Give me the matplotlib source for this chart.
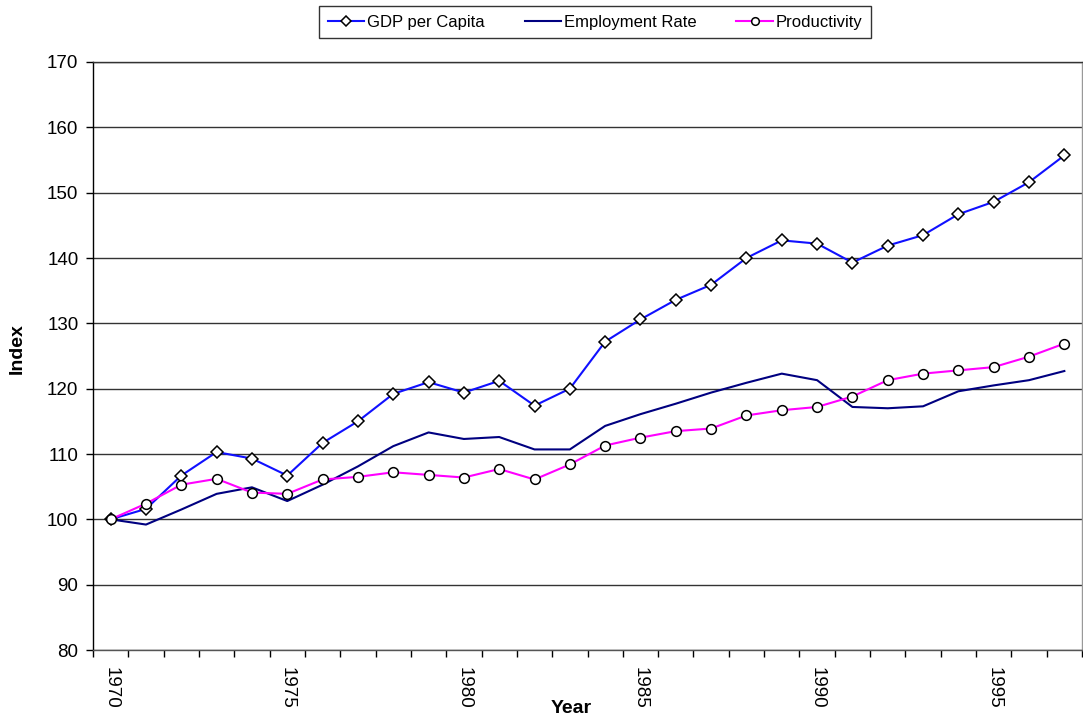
import matplotlib
matplotlib.use("Agg")
import matplotlib.pyplot as plt
from matplotlib.lines import Line2D
import numpy as np

plt.rcParams['font.family'] = ['Liberation Sans', 'DejaVu Sans']

years = list(range(1970, 1998))
gdp_per_capita = [100.0, 101.6, 106.7, 110.3, 109.3, 106.7, 111.7, 115.0, 119.2, 121.0,
                  119.4, 121.2, 117.4, 120.0, 127.2, 130.6, 133.6, 135.9, 140.0, 142.7,
                  142.2, 139.3, 141.9, 143.5, 146.7, 148.6, 151.6, 155.7]
employment_rate = [100.0, 99.2, 101.5, 103.9, 104.9, 102.8, 105.3, 108.1, 111.2, 113.3,
                   112.3, 112.6, 110.7, 110.7, 114.3, 116.1, 117.7, 119.4, 120.9, 122.3,
                   121.3, 117.2, 117.0, 117.3, 119.6, 120.5, 121.3, 122.7]
productivity = [100.0, 102.4, 105.3, 106.2, 104.1, 103.9, 106.1, 106.5, 107.2, 106.8,
                106.4, 107.7, 106.1, 108.4, 111.3, 112.5, 113.5, 113.9, 115.9, 116.7,
                117.2, 118.8, 121.3, 122.3, 122.8, 123.3, 124.9, 126.9]
yticks = list(range(80, 171, 10))

W, H = 1083, 717
fig = plt.figure(figsize=(W/100, H/100), dpi=100)
ax = fig.add_axes([93/W, 1-650/H, (1082-93)/W, (650-62)/H])

gdp_style = dict(color='#1010ff', lw=1.5, marker='D', mfc='white', mec='black', mew=1.1)
emp_style = dict(color='#000080', lw=1.5)
prod_style = dict(color='#ff00ff', lw=1.5, marker='o', mfc='white', mec='black', mew=1.1)

x = np.arange(len(years))
ax.plot(x, gdp_per_capita, ms=6.5, zorder=4, **gdp_style)
ax.plot(x, employment_rate, zorder=3, **emp_style)
ax.plot(x, productivity, ms=7, zorder=4, **prod_style)

ax.set_xlim(-0.5, len(years) - 0.5)
ax.set_ylim(80, 170)
ax.set_yticks(yticks)
ax.yaxis.grid(True, color='#333333', lw=1)
ax.set_axisbelow(True)

ax.set_xticks(np.arange(-0.5, len(years), 1.0))
ax.set_xticklabels([])
ax.tick_params(axis='x', which='major', direction='out', length=5, width=1, color='black')
lab_idx = [i for i, y in enumerate(years) if y % 5 == 0]
ax.set_xticks(lab_idx, minor=True)
ax.set_xticklabels([str(years[i]) for i in lab_idx], minor=True, rotation=270,
                   fontsize=13.5, va='top', ha='center')
ax.tick_params(axis='x', which='minor', length=0, pad=12.5)
ax.tick_params(axis='y', direction='out', length=5, width=1, labelsize=13.5, pad=5.5)

ax.spines['left'].set_color('black')
ax.spines['bottom'].set_color('#555555')
ax.spines['right'].set_color('#999999')
ax.spines['top'].set_color('#333333')
for s in ax.spines.values():
    s.set_linewidth(1)

fig.text(17.5/W, 1-349/H, 'Index', fontsize=14, fontweight='bold', rotation=90,
         ha='center', va='center')
fig.text(571/W, 1-713/H, 'Year', fontsize=14, fontweight='bold', ha='center', va='baseline')

handles = [Line2D([], [], ms=5, **gdp_style), Line2D([], [], **emp_style),
           Line2D([], [], ms=5.5, **prod_style)]
labels = ['GDP per Capita', 'Employment Rate', 'Productivity']
leg = fig.legend(handles, labels, loc='center', bbox_to_anchor=(595/W, 1-22/H), ncol=3,
                 frameon=True, fancybox=False, edgecolor='black', fontsize=12,
                 handlelength=2.2, columnspacing=2.4, borderpad=0.5, handletextpad=0.15,
                 borderaxespad=0)
leg.get_frame().set_linewidth(1)

fig.savefig('out.png', dpi=100)
